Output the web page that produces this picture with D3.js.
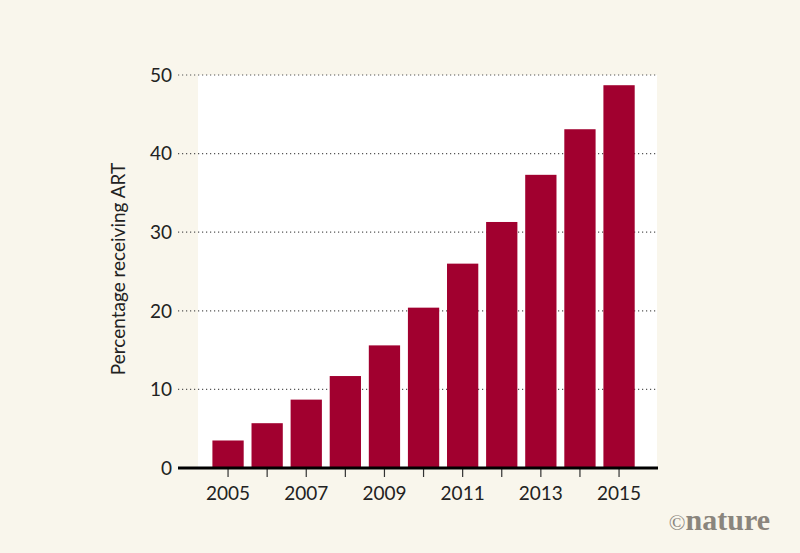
<!DOCTYPE html>
<html>
<head>
<meta charset="utf-8">
<script src="https://cdn.jsdelivr.net/npm/d3@7"></script>
<style>
  html, body { margin: 0; padding: 0; background: #f9f6ec; }
  svg { display: block; }
</style>
</head>
<body>
<div id="chart"></div>
<script>
// ART coverage by year
const years = [2005, 2006, 2007, 2008, 2009, 2010, 2011, 2012, 2013, 2014, 2015];
const values = [3.5, 5.7, 8.7, 11.7, 15.6, 20.4, 26.0, 31.3, 37.3, 43.1, 48.7];
const yTicks = [0, 10, 20, 30, 40, 50];
const xLabels = [2005, 2007, 2009, 2011, 2013, 2015];

const width = 800, height = 553;
const font = "Lato, 'Liberation Sans', sans-serif";

const svg = d3.select("#chart").append("svg")
    .attr("width", width)
    .attr("height", height);

svg.append("rect").attr("width", width).attr("height", height).attr("fill", "#f9f6ec");

const y = d3.scaleLinear().domain([0, 50]).range([468, 75]);
const x = d3.scaleBand()
    .domain(years)
    .range([208.5, 638.6])
    .paddingInner(0.2)
    .paddingOuter(0.1);

// white plot panel
svg.append("rect")
    .attr("x", 198).attr("y", y(50))
    .attr("width", 459).attr("height", y(0) - y(50))
    .attr("fill", "#ffffff");

// dotted gridlines
svg.append("g").selectAll("line")
    .data(yTicks.filter(d => d > 0))
    .enter().append("line")
    .attr("x1", 178).attr("x2", 657)
    .attr("y1", d => y(d)).attr("y2", d => y(d))
    .attr("stroke", "#555")
    .attr("stroke-width", 1.2)
    .attr("stroke-dasharray", "1.2,2.8");

// y tick labels
svg.append("g").selectAll("text")
    .data(yTicks)
    .enter().append("text")
    .attr("x", 172)
    .attr("y", d => y(d))
    .attr("dy", "0.36em")
    .attr("text-anchor", "end")
    .style("font-family", font)
    .style("font-size", "19px")
    .style("fill", "#222")
    .text(d => d);

// bars
svg.append("g").selectAll("rect")
    .data(years)
    .enter().append("rect")
    .attr("x", d => x(d))
    .attr("width", x.bandwidth())
    .attr("y", (d, i) => y(values[i]))
    .attr("height", (d, i) => y(0) - y(values[i]))
    .attr("fill", "#a1002f");

// x ticks
svg.append("g").selectAll("line")
    .data(years)
    .enter().append("line")
    .attr("x1", d => x(d) + x.bandwidth() / 2)
    .attr("x2", d => x(d) + x.bandwidth() / 2)
    .attr("y1", y(0)).attr("y2", y(0) + 9)
    .attr("stroke", "#333")
    .attr("stroke-width", 1.2);

// baseline
svg.append("line")
    .attr("x1", 178).attr("x2", 658)
    .attr("y1", y(0)).attr("y2", y(0))
    .attr("stroke", "#000")
    .attr("stroke-width", 3);

// x labels
svg.append("g").selectAll("text")
    .data(xLabels)
    .enter().append("text")
    .attr("x", d => x(d) + x.bandwidth() / 2)
    .attr("y", 500)
    .attr("text-anchor", "middle")
    .style("font-family", font)
    .style("font-size", "19px")
    .style("fill", "#222")
    .text(d => d);

// y axis title
svg.append("text")
    .attr("transform", "translate(125,269) rotate(-90)")
    .attr("text-anchor", "middle")
    .style("font-family", font)
    .style("font-size", "19px")
    .style("fill", "#222")
    .text("Percentage receiving ART");

// credit
const credit = svg.append("text")
    .attr("x", 770).attr("y", 530)
    .attr("text-anchor", "end")
    .style("font-family", "'Liberation Serif', 'DejaVu Serif', serif")
    .style("fill", "#8a857d");
credit.append("tspan")
    .style("font-size", "22px")
    .text("\u00a9");
credit.append("tspan")
    .style("font-size", "30px")
    .style("font-weight", "bold")
    .text("nature");
</script>
</body>
</html>
